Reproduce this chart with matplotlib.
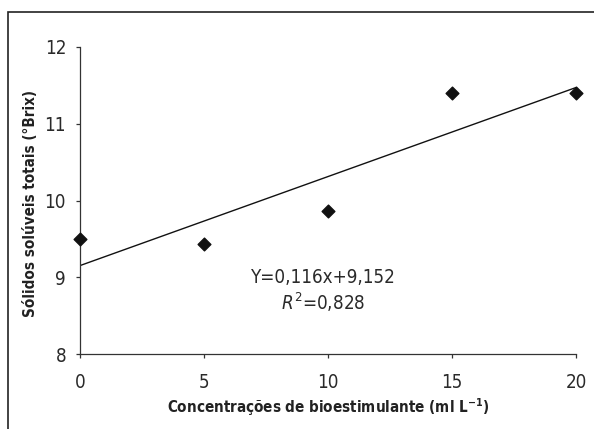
import matplotlib
matplotlib.use("Agg")
import matplotlib.pyplot as plt
import numpy as np
from matplotlib.patches import Rectangle

plt.rcParams["font.family"] = ["Liberation Sans Narrow", "DejaVu Sans"]
plt.rcParams["font.stretch"] = "condensed"

conc = [0, 5, 10, 15, 20]
brix = [9.50, 9.43, 9.86, 11.40, 11.40]
slope, intercept = 0.116, 9.152
x_ticks = [0, 5, 10, 15, 20]
y_ticks = [8, 9, 10, 11, 12]

fig = plt.figure(figsize=(5.94, 4.29), dpi=100)
ax = fig.add_axes([80 / 594, 1 - 354 / 429, 496 / 594, 307 / 429])

# frame around the whole figure (right and bottom edges run off the picture)
fig.patches.append(Rectangle((8 / 594, -0.05), 1.1, 1.05 - 12.5 / 429,
                             transform=fig.transFigure, fill=False,
                             lw=1.2, ec="#222222"))

xf = np.array([conc[0], conc[-1]])
ax.plot(xf, intercept + slope * xf, color="#111111", lw=1)
ax.scatter(conc, brix, marker="D", s=42, color="#111111", zorder=3,
           clip_on=False)

ax.set_xlim(0, 20)
ax.set_ylim(8, 12)
ax.set_xticks(x_ticks)
ax.set_yticks(y_ticks)
for s in ("top", "right"):
    ax.spines[s].set_visible(False)
for s in ("left", "bottom"):
    ax.spines[s].set_color("#333333")
    ax.spines[s].set_linewidth(0.9)
ax.tick_params(direction="out", length=3, width=0.9, colors="#333333",
               labelsize=13.5, labelcolor="#2a2a2a")
ax.tick_params(axis="x", pad=11)
ax.tick_params(axis="y", pad=7)

ax.set_xlabel("Concentrações de bioestimulante (ml L$^{\\mathregular{-1}}$)",
              fontsize=10.9, fontweight="bold", color="#222222", labelpad=3)
ax.set_ylabel("Sólidos solúveis totais (°Brix)", fontsize=10.9,
              fontweight="bold", color="#222222")
ax.yaxis.set_label_coords(-42 / 496, 0.49)

ax.text(9.8, 9.0, "Y=0,116x+9,152", fontsize=13.5, ha="center",
        va="center", color="#2a2a2a")
ax.text(9.8, 8.68, "$\\mathit{R}^{\\mathregular{2}}$=0,828", fontsize=13.5,
        ha="center", va="center", color="#2a2a2a")

fig.savefig("out.png", dpi=100)
